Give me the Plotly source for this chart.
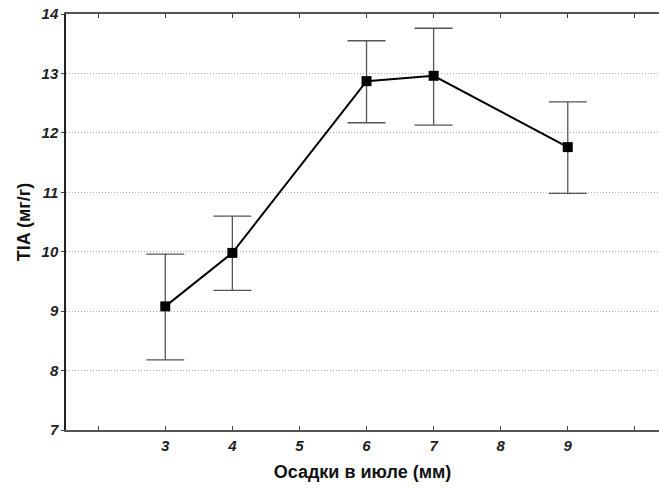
import plotly.graph_objects as go

x_vals = [3, 4, 6, 7, 9]
y_vals = [9.08, 9.98, 12.87, 12.96, 11.76]
err_plus = [0.88, 0.62, 0.68, 0.80, 0.76]
err_minus = [0.90, 0.63, 0.70, 0.83, 0.78]
x_tick_vals = [2, 3, 4, 5, 6, 7, 8, 9, 10]
x_tick_text = ["", "3", "4", "5", "6", "7", "8", "9", ""]
y_tick_vals = [7, 8, 9, 10, 11, 12, 13, 14]

fig = go.Figure()
fig.add_trace(go.Scatter(
    x=x_vals, y=y_vals, mode="lines+markers",
    line=dict(color="black", width=2),
    marker=dict(symbol="square", size=10, color="black"),
    error_y=dict(type="data", symmetric=False, array=err_plus, arrayminus=err_minus,
                 color="#555555", thickness=1.3, width=19),
    showlegend=False,
))

tickfont = dict(family="Liberation Sans, Arial", size=15, color="#222",
                weight="bold", style="italic")
fig.update_layout(
    width=659, height=490,
    margin=dict(l=66, r=0, t=14, b=60),
    paper_bgcolor="white", plot_bgcolor="white",
    xaxis=dict(
        range=[1.52, 10.36], tickmode="array", tickvals=x_tick_vals, ticktext=x_tick_text,
        ticks="inside", ticklen=4, tickcolor="#444", showgrid=False, zeroline=False,
        showline=True, linecolor="#555", linewidth=1.5, mirror="ticks",
        tickfont=tickfont, ticklabelstandoff=1, automargin=False,
        title=dict(text="Осадки в июле (мм)", standoff=13,
                   font=dict(family="Liberation Sans, Arial", size=18, color="#111", weight="bold")),
    ),
    yaxis=dict(
        range=[7, 14], tickmode="array", tickvals=y_tick_vals,
        ticks="outside", ticklen=3, tickcolor="#444", showgrid=True,
        gridcolor="#b0b0b0", griddash="1px,2px", gridwidth=1, zeroline=False,
        showline=True, linecolor="#222", linewidth=1.5,
        tickfont=tickfont, ticklabelstandoff=0, automargin=False,
        title=dict(text="TIA (мг/г)", standoff=6,
                   font=dict(family="Liberation Sans, Arial", size=18, color="#111", weight="bold")),
    ),
)
fig.write_html("out.html", config={"displayModeBar": False},
               post_script="document.body.style.margin='0';")
